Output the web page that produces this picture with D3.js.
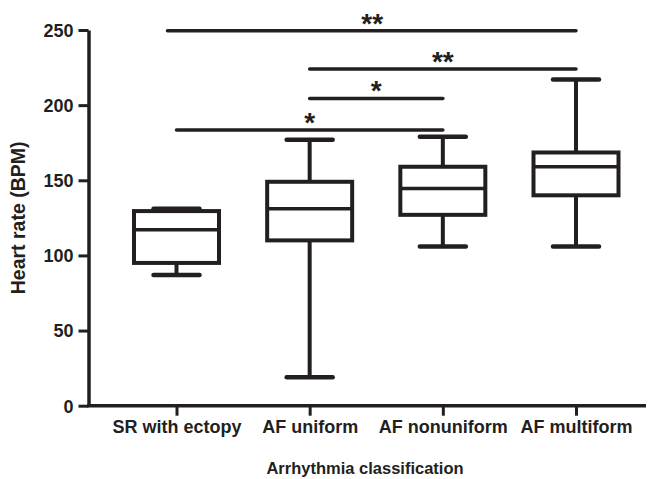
<!DOCTYPE html>
<html>
<head>
<meta charset="utf-8">
<script src="https://cdn.jsdelivr.net/npm/d3@7"></script>
<style>
  body { margin: 0; background: #fff; }
  svg { display: block; font-family: "Liberation Sans", Arial, sans-serif; }
</style>
</head>
<body>
<svg id="chart"></svg>
<script>
// data
const categories = ['SR with ectopy', 'AF uniform', 'AF nonuniform', 'AF multiform'];
const whiskerLow  = [87, 19, 106, 106];
const q1          = [95, 110, 127, 140];
const median      = [117, 131, 144.5, 159];
const q3          = [129.5, 149, 159, 168.5];
const whiskerHigh = [131, 177, 179, 217];
const yTicks = [0, 50, 100, 150, 200, 250];

// significance brackets: from group, to group, height, label
const sigFrom   = [0, 1, 1, 0];
const sigTo     = [3, 3, 2, 2];
const sigLevel  = [249.5, 224, 204.5, 183.5];
const sigLabels = ['**', '**', '*', '*'];

const ink = '#231f20';
const W = 649, H = 479;

const svg = d3.select('#chart').attr('width', W).attr('height', H);

const y = d3.scaleLinear().domain([0, 250]).range([405.7, 30]);
const x = d3.scalePoint().domain(categories).range([176.5, 576]);

const boxes = categories.map((c, i) => ({
  cat: c, lo: whiskerLow[i], q1: q1[i], med: median[i], q3: q3[i], hi: whiskerHigh[i]
}));

const boxW = 85, capW = 46;

// y axis
const yAxis = svg.append('g')
  .attr('transform', 'translate(88.5,0)')
  .call(d3.axisLeft(y).tickValues(yTicks).tickSize(10).tickSizeOuter(0).tickPadding(5));
yAxis.select('.domain').attr('stroke', ink).attr('stroke-width', 3.5);
yAxis.selectAll('.tick line').attr('stroke', ink).attr('stroke-width', 3);
yAxis.selectAll('.tick text')
  .attr('fill', ink)
  .style('font-size', '18px')
  .style('font-weight', 'bold')
  .attr('dy', '0.35em');

// x axis
svg.append('line')
  .attr('x1', 87).attr('x2', 646)
  .attr('y1', y(0)).attr('y2', y(0))
  .attr('stroke', ink).attr('stroke-width', 3.5);

const xAxis = svg.append('g')
  .attr('transform', `translate(0,${y(0)})`)
  .call(d3.axisBottom(x).tickSize(10).tickPadding(5));
xAxis.select('.domain').remove();
xAxis.selectAll('.tick line').attr('stroke', ink).attr('stroke-width', 3);
xAxis.selectAll('.tick text')
  .attr('fill', ink)
  .style('font-size', '18px')
  .style('font-weight', 'bold');

// axis titles
svg.append('text')
  .attr('x', 365).attr('y', 474)
  .attr('text-anchor', 'middle')
  .attr('fill', ink)
  .style('font-size', '16.5px')
  .style('font-weight', 'bold')
  .text('Arrhythmia classification');

svg.append('text')
  .attr('transform', `translate(25,${(y(0) + y(250)) / 2}) rotate(-90)`)
  .attr('text-anchor', 'middle')
  .attr('fill', ink)
  .style('font-size', '19.5px')
  .style('font-weight', 'bold')
  .text('Heart rate (BPM)');

// box plots
const g = svg.append('g').attr('class', 'boxes');
const bx = g.selectAll('.box').data(boxes).enter().append('g').attr('class', 'box');

// whisker stems
bx.append('line')
  .attr('x1', d => x(d.cat)).attr('x2', d => x(d.cat))
  .attr('y1', d => y(d.hi)).attr('y2', d => y(d.q3))
  .attr('stroke', ink).attr('stroke-width', 4);
bx.append('line')
  .attr('x1', d => x(d.cat)).attr('x2', d => x(d.cat))
  .attr('y1', d => y(d.q1)).attr('y2', d => y(d.lo))
  .attr('stroke', ink).attr('stroke-width', 4);

// caps
['hi', 'lo'].forEach(k => {
  bx.append('line')
    .attr('x1', d => x(d.cat) - capW / 2).attr('x2', d => x(d.cat) + capW / 2)
    .attr('y1', d => y(d[k])).attr('y2', d => y(d[k]))
    .attr('stroke', ink).attr('stroke-width', 4.5)
    .attr('stroke-linecap', 'round');
});

// box body
bx.append('rect')
  .attr('x', d => x(d.cat) - boxW / 2)
  .attr('width', boxW)
  .attr('y', d => y(d.q3))
  .attr('height', d => y(d.q1) - y(d.q3))
  .attr('fill', '#fff')
  .attr('stroke', ink).attr('stroke-width', 4);

// median
bx.append('line')
  .attr('x1', d => x(d.cat) - boxW / 2).attr('x2', d => x(d.cat) + boxW / 2)
  .attr('y1', d => y(d.med)).attr('y2', d => y(d.med))
  .attr('stroke', ink).attr('stroke-width', 3.5);

// significance bars
const sig = sigFrom.map((f, i) => ({ a: categories[f], b: categories[sigTo[i]], v: sigLevel[i], label: sigLabels[i] }));
const sg = svg.append('g').attr('class', 'sig');
sg.selectAll('line').data(sig).enter().append('line')
  .attr('x1', d => x(d.a) - (d.a === categories[0] && d.b === categories[3] ? 9 : 0))
  .attr('x2', d => x(d.b))
  .attr('y1', d => y(d.v)).attr('y2', d => y(d.v))
  .attr('stroke', ink).attr('stroke-width', 3.5)
  .attr('stroke-linecap', 'round');
sg.selectAll('text').data(sig).enter().append('text')
  .attr('x', d => (x(d.a) + x(d.b)) / 2 - (d.a === categories[0] && d.b === categories[3] ? 4 : 0))
  .attr('y', d => y(d.v) + 2)
  .attr('text-anchor', 'middle')
  .attr('fill', ink)
  .style('font-size', '28px')
  .style('font-weight', 'bold')
  .text(d => d.label);
</script>
</body>
</html>
